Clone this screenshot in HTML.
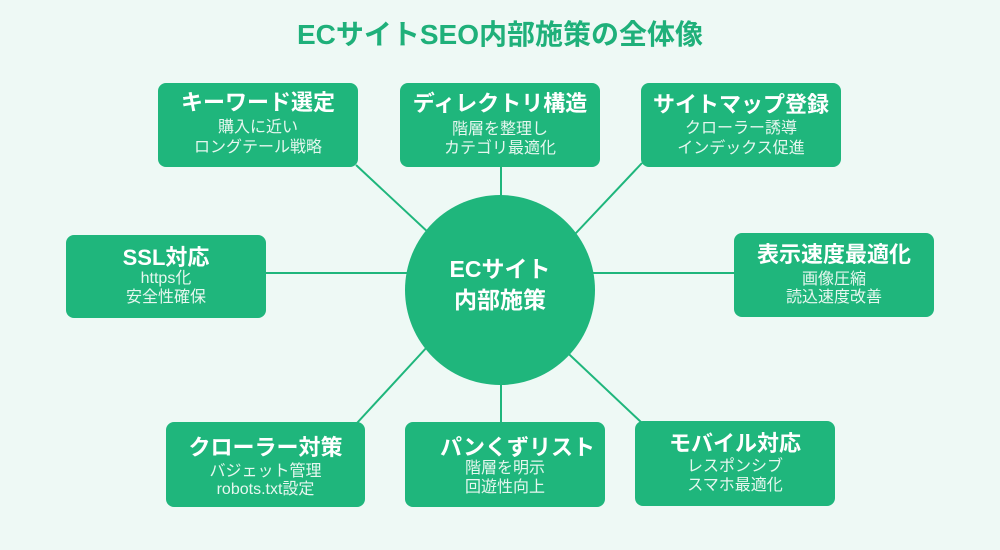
<!DOCTYPE html>
<html lang="ja">
<head>
<meta charset="utf-8">
<style>
  html, body { margin: 0; padding: 0; }
  body {
    width: 1000px; height: 550px; overflow: hidden;
    background: #eef9f5;
    position: relative;
    font-family: "Liberation Sans", "Noto Sans CJK JP", sans-serif;
  }
  svg.lines { position: absolute; left: 0; top: 0; }
  .title {
    position: absolute; left: 0; width: 1000px; top: 17px;
    text-align: center; font-size: 28px; line-height: 36px; font-weight: bold;
    color: #1fb07a;
  }
  .box {
    position: absolute; background: #1fb67c; border-radius: 8px;
    color: #fff;
  }
  .box div { position: absolute; left: 0; width: 100%; text-align: center; white-space: nowrap; }
  .t { font-size: 22px; line-height: 26px; font-weight: bold; color: #fff; }
  .s { font-size: 16px; line-height: 20px; color: #e6f7ef; }
  .circle {
    position: absolute; left: 405px; top: 195px; width: 190px; height: 190px;
    border-radius: 50%; background: #1fb67c;
  }
  .ct {
    position: absolute; left: 405px; width: 190px; text-align: center;
    font-size: 23px; line-height: 28px; font-weight: bold; color: #fff;
  }
</style>
</head>
<body>
<div class="title">ECサイトSEO内部施策の全体像</div>

<svg class="lines" width="1000" height="550" viewBox="0 0 1000 550">
  <g stroke="#1fb67c" stroke-width="2" fill="none">
    <line x1="356" y1="165" x2="445" y2="248"/>
    <line x1="501" y1="165" x2="501" y2="200"/>
    <line x1="642" y1="163" x2="560" y2="250"/>
    <line x1="264" y1="273" x2="410" y2="273"/>
    <line x1="590" y1="273" x2="736" y2="273"/>
    <line x1="440" y1="333" x2="357" y2="423"/>
    <line x1="501" y1="380" x2="501" y2="424"/>
    <line x1="555" y1="341" x2="642" y2="423"/>
  </g>
</svg>

<div class="circle"></div>
<div class="ct" style="top:255px;">ECサイト</div>
<div class="ct" style="top:286px;">内部施策</div>

<!-- Box 1 -->
<div class="box" style="left:158px;top:83px;width:200px;height:84px;">
  <div class="t" style="top:6.5px;">キーワード選定</div>
  <div class="s" style="top:35px;">購入に近い</div>
  <div class="s" style="top:54.5px;">ロングテール戦略</div>
</div>

<!-- Box 2 -->
<div class="box" style="left:400px;top:83px;width:200px;height:84px;">
  <div class="t" style="top:8px;">ディレクトリ構造</div>
  <div class="s" style="top:36.5px;">階層を整理し</div>
  <div class="s" style="top:55.5px;">カテゴリ最適化</div>
</div>

<!-- Box 3 -->
<div class="box" style="left:641px;top:83px;width:200px;height:84px;">
  <div class="t" style="top:9px;">サイトマップ登録</div>
  <div class="s" style="top:36px;">クローラー誘導</div>
  <div class="s" style="top:56px;">インデックス促進</div>
</div>

<!-- SSL -->
<div class="box" style="left:66px;top:235px;width:200px;height:83px;">
  <div class="t" style="top:9.5px;">SSL対応</div>
  <div class="s" style="top:33.5px;">https化</div>
  <div class="s" style="top:53px;">安全性確保</div>
</div>

<!-- Right -->
<div class="box" style="left:734px;top:233px;width:200px;height:84px;">
  <div class="t" style="top:9px;">表示速度最適化</div>
  <div class="s" style="top:36.5px;">画像圧縮</div>
  <div class="s" style="top:55px;">読込速度改善</div>
</div>

<!-- Box 7 -->
<div class="box" style="left:166px;top:422px;width:199px;height:85px;">
  <div class="t" style="top:12.5px;">クローラー対策</div>
  <div class="s" style="top:39.5px;">バジェット管理</div>
  <div class="s" style="top:58px;">robots.txt設定</div>
</div>

<!-- Box 8 -->
<div class="box" style="left:405px;top:422px;width:200px;height:85px;">
  <div class="t" style="top:13px;padding-left:25px;box-sizing:border-box;">パンくずリスト</div>
  <div class="s" style="top:36.5px;">階層を明示</div>
  <div class="s" style="top:55.5px;">回遊性向上</div>
</div>

<!-- Box 9 -->
<div class="box" style="left:635px;top:421px;width:200px;height:85px;">
  <div class="t" style="top:9.5px;">モバイル対応</div>
  <div class="s" style="top:35.5px;">レスポンシブ</div>
  <div class="s" style="top:54.5px;">スマホ最適化</div>
</div>
</body>
</html>
